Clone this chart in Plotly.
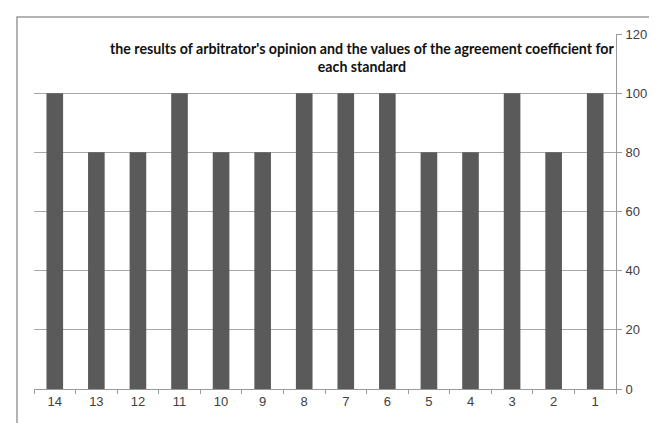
import plotly.graph_objects as go

categories = ["14", "13", "12", "11", "10", "9", "8", "7", "6", "5", "4", "3", "2", "1"]
values = [100, 80, 80, 100, 80, 80, 100, 100, 100, 80, 80, 100, 80, 100]
y_ticks = [0, 20, 40, 60, 80, 100, 120]
title_text = "the results of arbitrator's opinion and the values of the agreement coefficient for<br>each standard"

W, H = 657, 423
L, R, T, B = 26, 608, 26, 381

fig = go.Figure(go.Bar(x=categories, y=values, marker=dict(color="#5a5a5a", line=dict(width=0))))

fig.update_layout(
    width=W, height=H,
    margin=dict(l=L, r=W - R, t=T, b=H - B),
    paper_bgcolor="white", plot_bgcolor="white",
    bargap=0.6, showlegend=False,
    font=dict(family="Liberation Sans, Arial, sans-serif", size=12, color="#404040"),
)
fig.update_xaxes(
    type="category", categoryorder="array", categoryarray=categories,
    showline=True, linecolor="#9a9a9a", linewidth=1,
    ticks="outside", tickson="boundaries", ticklen=4, tickcolor="#9a9a9a",
    showgrid=False, tickfont=dict(size=13, color="#404040"),
    ticklabelstandoff=0,
)
fig.update_yaxes(
    side="right", range=[0, 120], tickvals=y_ticks,
    showline=True, linecolor="#9a9a9a", linewidth=1,
    ticks="outside", ticklen=5, tickcolor="#9a9a9a",
    showgrid=True, gridcolor="#a8a8a8", gridwidth=1, zeroline=False,
    tickfont=dict(size=13, color="#404040"),
    ticklabelstandoff=1,
)

pw, ph = R - L, B - T
def px(x):
    return (x - L) / pw
def py(y):
    return (B - y) / ph

fig.add_shape(type="rect", xref="paper", yref="paper",
              x0=px(9), x1=px(700), y0=py(9), y1=py(480),
              line=dict(color="#9a9a9a", width=1.5), fillcolor="rgba(0,0,0,0)")

fig.add_annotation(text="<b>" + title_text + "</b>", xref="paper", yref="paper",
                   x=px(354), y=py(30), xanchor="center", yanchor="top",
                   showarrow=False, align="center",
                   font=dict(family="Lato, sans-serif", size=14.2, color="#111111"))

fig.write_html("out.html")
